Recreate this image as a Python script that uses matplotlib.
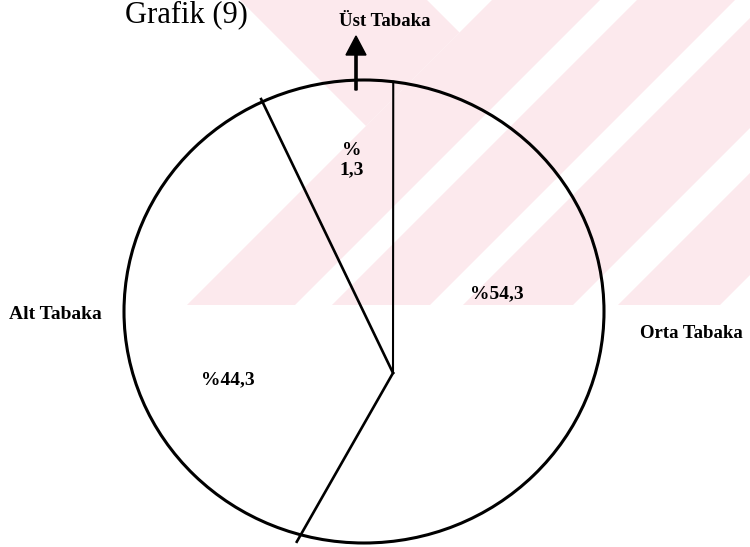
import numpy as np
import matplotlib.pyplot as plt
from matplotlib.patches import Ellipse, Polygon, Rectangle

plt.rcParams['font.family'] = ['Liberation Serif', 'DejaVu Serif']

# chart data
title = "Grafik (9)"
categories = ["Orta Tabaka", "Alt Tabaka", "Üst Tabaka"]
percent_text = ["%54,3", "%44,3", "%\n1,3"]
# slice sizes as they are drawn in the scanned figure (hand drawn, not to scale)
drawn_share = [52.3, 38.8, 8.9]

# watermark stripes (x + y bands) in the background of the scan
stripe_bands = [(492, 600), (637, 735), (768, 878), (923, 1025)]

fig = plt.figure(figsize=(7.5, 5.47), dpi=100)
ax = fig.add_axes([0, 0, 1, 1])
ax.set_xlim(0, 750)
ax.set_ylim(547, 0)
ax.axis('off')

# pink watermark, cut off at y=305 like in the scan
pink = '#fce9ed'
clip = Rectangle((0, 0), 750, 305, transform=ax.transData)
for s0, s1 in stripe_bands:
    band = Polygon([(s0 + 100, -100), (s1 + 100, -100), (s1 - 400, 400), (s0 - 400, 400)],
                   closed=True, fc=pink, ec='none', zorder=0)
    ax.add_patch(band)
    band.set_clip_path(clip)
arm = Polygon([(240, 0), (427, 0), (459.5, 32.5), (366, 126)], closed=True,
              fc=pink, ec='none', zorder=0)
ax.add_patch(arm)
arm.set_clip_path(clip)

# outline of the pie (slightly wider than tall in the scan)
cx, cy = 364, 311.5
a, b = 240, 231.5
ax.add_patch(Ellipse((cx, cy), 2 * a, 2 * b, fill=False, ec='black', lw=2.2, zorder=2))

# slice borders from the (off-centre) drawn vertex to the rim
vx, vy = 393, 373
start = 7.0
angles = start + np.concatenate([[0], np.cumsum(drawn_share)[:-1]]) * 3.6
overshoot = [0, 8, 3]
for ang, ext in zip(angles, overshoot):
    t = np.radians(ang)
    px, py = cx + a * np.sin(t), cy - b * np.cos(t)
    d = np.hypot(px - vx, py - vy)
    px += (px - vx) / d * ext
    py += (py - vy) / d * ext
    lw = 1.5 if ang == start else 1.9
    ax.plot([vx, px], [vy, py], color='black', lw=lw, zorder=3)

# arrow pointing to the small slice label
ax.arrow(356, 90, 0, -54, width=2.2, head_width=20, head_length=19,
         length_includes_head=True, fc='black', ec='black', zorder=3)

# texts
ax.text(125, 22, title, fontsize=22, ha='left', va='baseline')
ax.text(385, 26, categories[2], fontsize=13.5, fontweight='bold', ha='center', va='baseline')
ax.text(640, 338, categories[0], fontsize=13.5, fontweight='bold', ha='left', va='baseline')
ax.text(9, 319, categories[1], fontsize=14, fontweight='bold', ha='left', va='baseline')

ax.text(497, 298, percent_text[0], fontsize=14, fontweight='bold', ha='center', va='baseline')
ax.text(228, 384, percent_text[1], fontsize=14, fontweight='bold', ha='center', va='baseline')
ax.text(352, 160, percent_text[2], fontsize=14, fontweight='bold', ha='center', va='center',
        multialignment='center', linespacing=1.2)

plt.savefig('out.png', dpi=100)
